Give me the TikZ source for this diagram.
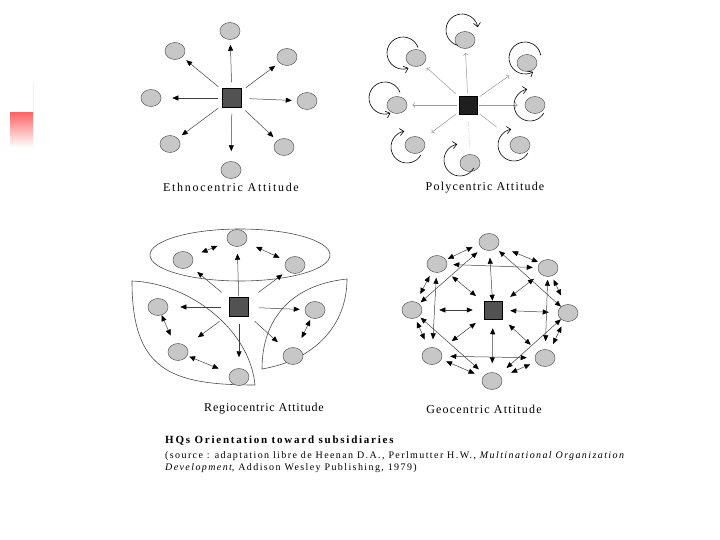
\documentclass[tikz,border=0pt]{standalone}
\usepackage{fontspec}
\setmainfont{Liberation Serif}
\newfontfamily\spaced[LetterSpace=10]{Liberation Serif}
\newfontfamily\wide[LetterSpace=14]{Liberation Serif}
\usetikzlibrary{arrows.meta,calc,shapes.geometric}

\begin{document}
\begin{tikzpicture}[x=1pt,y=-1pt,
  sub/.style={ellipse, draw=black!65, fill=black!22, line width=0.5pt, minimum width=20pt, minimum height=17pt, inner sep=0pt},
  hq/.style={rectangle, draw=black, fill=black!68, line width=0.5pt, minimum size=19pt, inner sep=0pt},
  ray/.style={draw=black!75, line width=0.5pt, -{Triangle[length=6pt,width=5pt,color=black]}},
  dbl/.style={draw=black!75, line width=0.5pt, {Triangle[length=6pt,width=5pt,color=black]}-{Triangle[length=6pt,width=5pt,color=black]}},
  faint/.style={draw=black!40, line width=0.5pt},
  spin/.style={draw=black, line width=0.6pt, -{Straight Barb[length=4pt,width=7pt]}},
  zone/.style={draw=black!70, line width=0.6pt},
  lbl/.style={font=\spaced\fontsize{12}{14}\selectfont, inner sep=0pt},
  note/.style={anchor=west, font=\wide\fontsize{10}{12}\selectfont, inner sep=0pt}]
\useasboundingbox (0,0) rectangle (720,540);
\shade[top color=red!60, bottom color=white] (10,113) rectangle (33,147);
\draw[yellow!40, line width=0.6pt] (33,82) -- (33,113);

\node[hq](EC) at (232,98){};
\node[sub](E0) at (230,31){};
\node[sub](E1) at (287,57){};
\node[sub](E2) at (307,101){};
\node[sub](E3) at (284,147){};
\node[sub](E4) at (231,170){};
\node[sub](E5) at (170,144){};
\node[sub](E6) at (151,98){};
\node[sub](E7) at (175,51){};
\draw[ray, shorten <=6pt, shorten >=5pt] (EC) -- (E0);
\draw[ray, shorten <=5pt, shorten >=5pt] (EC) -- (E1);
\draw[ray, shorten <=8pt, shorten >=5pt] (EC) -- (E2);
\draw[ray, shorten <=5pt, shorten >=5pt] (EC) -- (E3);
\draw[ray, shorten <=6pt, shorten >=10pt] (EC) -- (E4);
\draw[ray, shorten <=5pt, shorten >=5pt] (EC) -- (E5);
\draw[ray, shorten <=4pt, shorten >=11pt] (EC) -- (E6);
\draw[ray, shorten <=5pt, shorten >=5pt] (EC) -- (E7);
\node[lbl, font=\wide\fontsize{12}{14}\selectfont](LE) at (231,187){Ethnocentric Attitude};

\node[hq, fill=black!88, minimum size=18pt](PC) at (468,105){};
\node[sub](P0) at (465,40){};
\node[sub](P1) at (527,63){};
\node[sub](P2) at (535,105){};
\node[sub](P3) at (520,145){};
\node[sub](P4) at (470,163){};
\node[sub](P5) at (415,145){};
\node[sub](P6) at (397,105){};
\node[sub](P7) at (416,58){};
\draw[faint, ->, shorten <=3pt, shorten >=4pt] (PC) -- (P0);
\draw[faint, ->, shorten <=3pt, shorten >=12pt] (PC) -- (P1);
\draw[faint, ->, shorten <=2pt, shorten >=7pt] (PC) -- (P2);
\draw[faint, shorten <=3pt, shorten >=20pt] (PC) -- (P3);
\draw[faint, densely dotted, shorten <=8pt, shorten >=8pt] (PC) -- (P4);
\draw[faint, ->, shorten <=3pt, shorten >=11pt] (PC) -- (P5);
\draw[faint, ->, shorten <=2pt, shorten >=5pt] (PC) -- (P6);
\draw[faint, ->, shorten <=4pt, shorten >=5pt] (PC) -- (P7);
\draw[spin] ($(P0)+(-3,-10)+(105:16)$) arc[start angle=105, end angle=350, radius=16];
\draw[spin] ($(P1)+(-2,-5)+(-10:16)$) arc[start angle=-10, end angle=-300, radius=16];
\draw[spin] ($(P2)+(-5,0)+(30:16)$) arc[start angle=30, end angle=260, radius=16];
\draw[spin] ($(P3)+(-6,0)+(30:16)$) arc[start angle=30, end angle=260, radius=16];
\draw[spin] ($(P4)+(-10,-3)+(30:16)$) arc[start angle=30, end angle=260, radius=16];
\draw[spin] ($(P5)+(-8,2)+(30:16)$) arc[start angle=30, end angle=260, radius=16];
\draw[spin] ($(P6)+(-12,-7)+(-20:16)$) arc[start angle=-20, end angle=-290, radius=16];
\draw[spin] ($(P7)+(-13,-5)+(-20:16)$) arc[start angle=-20, end angle=-290, radius=16];
\node[lbl](LP) at (485,188){Polycentric Attitude};

\draw[zone] (240,255) ellipse[x radius=90, y radius=26];
\draw[zone] (132,281) .. controls (190,283) and (250,330) .. (255,385) .. controls (170,385) and (132,370) .. cycle;
\draw[zone] (262,369) .. controls (262,320) and (290,285) .. (347,279) .. controls (347,325) and (315,360) .. cycle;
\node[hq](RC) at (239,307){};
\node[sub](R0) at (237,238){};
\node[sub](R1) at (183,260){};
\node[sub](R2) at (295,265){};
\node[sub](R3) at (158,307){};
\node[sub](R4) at (178,352){};
\node[sub](R5) at (239,377){};
\node[sub](R6) at (315,310){};
\node[sub](R7) at (293,356){};
\draw[ray, shorten <=1pt, shorten >=7pt] (RC) -- (R0);
\draw[ray, shorten <=10pt, shorten >=9pt] (RC) -- (R1);
\draw[ray, shorten <=12pt, shorten >=6pt] (RC) -- (R2);
\draw[ray, shorten <=8pt, shorten >=12pt] (RC) -- (R3);
\draw[ray, shorten <=12pt, shorten >=15pt] (RC) -- (R4);
\draw[ray, shorten <=7pt, shorten >=11pt] (RC) -- (R5);
\draw[ray, shorten <=10pt, shorten >=5pt] (RC) -- (R6);
\draw[ray, shorten <=8pt, shorten >=11pt] (RC) -- (R7);
\draw[dbl, shorten <=10pt, shorten >=11pt] (R1) -- (R0);
\draw[dbl, shorten <=11pt, shorten >=7pt] (R0) -- (R2);
\draw[dbl, shorten <=0pt, shorten >=9pt] (R3) -- (R4);
\draw[dbl, shorten <=2pt, shorten >=12pt] (R4) -- (R5);
\draw[dbl, shorten <=2pt, shorten >=11pt] (R6) -- (R7);
\node[lbl, font=\spaced\fontsize{12}{14}\selectfont\addfontfeature{LetterSpace=7}](LR) at (264,409){Regiocentric Attitude};

\node[hq, minimum size=18pt](GC) at (493,310){};
\node[sub](G0) at (489,242){};
\node[sub](G1) at (548,268){};
\node[sub](G2) at (568,313){};
\node[sub](G3) at (545,358){};
\node[sub](G4) at (492,381){};
\node[sub](G5) at (432,356){};
\node[sub](G6) at (412,310){};
\node[sub](G7) at (437,264){};
\draw[dbl, shorten <=7pt, shorten >=0pt] (G0) -- (GC);
\draw[dbl, shorten <=17pt, shorten >=11pt] (G6) -- (GC);
\draw[dbl, shorten <=8pt, shorten >=9pt] (GC) -- (G2);
\draw[dbl, shorten <=9pt, shorten >=9pt] (GC) -- (G4);
\draw[dbl, shorten <=10pt, shorten >=10pt] (G7) -- (GC);
\draw[dbl, shorten <=8pt, shorten >=10pt] (G1) -- (GC);
\draw[dbl, shorten <=10pt, shorten >=15pt] (GC) -- (G5);
\draw[dbl, shorten <=9pt, shorten >=10pt] (GC) -- (G3);
\draw[dbl, shorten <=6pt, shorten >=2pt] (G0) -- (G6);
\draw[dbl, shorten <=4pt, shorten >=0pt] (G0) -- (G2);
\draw[dbl, shorten <=2pt, shorten >=8pt] (G6) -- (G4);
\draw[dbl, shorten <=0pt, shorten >=10pt] (G2) -- (G4);
\draw[dbl, shorten <=6pt, shorten >=5pt] (G7) -- (G1);
\draw[dbl, shorten <=8pt, shorten >=8pt] (G5) -- (G3);
\draw[dbl, shorten <=5pt, shorten >=8pt] (G7) -- (G5);
\draw[dbl, shorten <=3pt, shorten >=8pt] (G1) -- (G3);
\draw[dbl, shorten <=2pt, shorten >=7pt] ([shift={(0,-12)}]G7) -- ([shift={(0,-12)}]G0);
\draw[dbl, shorten <=15pt, shorten >=2pt] ([shift={(0,-12)}]G0) -- ([shift={(0,-12)}]G1);
\draw[dbl, shorten <=4pt, shorten >=10pt] ([shift={(6,0)}]G1) -- ([shift={(6,0)}]G2);
\draw[dbl, shorten <=6pt, shorten >=7pt] ([shift={(6,0)}]G2) -- ([shift={(6,0)}]G3);
\draw[dbl, shorten <=6pt, shorten >=11pt] ([shift={(0,-1)}]G3) -- ([shift={(0,-1)}]G4);
\draw[dbl, shorten <=9pt, shorten >=5pt] ([shift={(0,-4)}]G4) -- ([shift={(0,-4)}]G5);
\draw[dbl, shorten <=9pt, shorten >=4pt] ([shift={(-2,0)}]G5) -- ([shift={(-2,0)}]G6);
\draw[dbl, shorten <=9pt, shorten >=5pt] ([shift={(-6,0)}]G6) -- ([shift={(-6,0)}]G7);
\node[lbl](LG) at (484,409){Geocentric Attitude};

\node[note, font=\spaced\bfseries\fontsize{11}{13}\selectfont\addfontfeature{LetterSpace=16}](T1) at (165,441){HQs Orientation toward subsidiaries};
\node[note](T2) at (165,456){ (source : adaptation libre de Heenan D.A., Perlmutter H.W., \textit{Multinational Organization}};
\node[note](T3) at (165,468){\textit{Development}, Addison Wesley Publishing, 1979)};
\end{tikzpicture}
\end{document}
